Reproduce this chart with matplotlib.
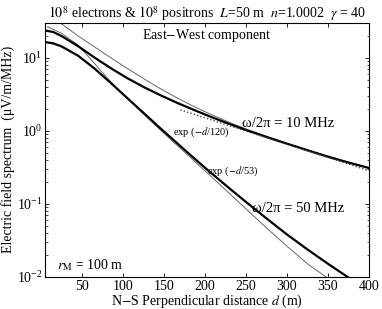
import numpy as np
import matplotlib
matplotlib.use("Agg")
import matplotlib.pyplot as plt

# ---------------------------------------
# Data
# ---------------------------------------

# omega/2pi = 10 MHz (thick) and its thin approximation
d_10 = [5, 15, 25, 45, 65, 85, 105, 125, 145, 165, 185, 205, 230, 250, 275, 300, 325, 350, 375, 400]
E_10 = [23.6, 22.5, 19.8, 14.45, 10.1, 7.21, 5.27, 3.98, 3.09, 2.44, 1.96, 1.585, 1.236, 1.023,
        0.822, 0.664, 0.540, 0.442, 0.367, 0.309]

d_10_thin = [15, 23, 45, 65, 85, 105, 125, 145, 165, 185, 205, 230, 250, 275, 300, 325, 350, 375, 400]
E_10_thin = [35.1, 30.2, 19.95, 14.13, 10.0, 7.16, 5.19, 3.80, 2.85, 2.19, 1.72, 1.30, 1.06,
             0.841, 0.676, 0.55, 0.447, 0.372, 0.313]

# omega/2pi = 50 MHz (thick) and its thin approximation
d_50 = [5, 15, 25, 45, 65, 85, 105, 125, 145, 165, 185, 205, 230, 250, 275, 300, 325, 350, 375, 400]
E_50 = [16.4, 15.7, 14.3, 10.7, 7.16, 4.52, 2.82, 1.76, 1.096, 0.692, 0.437, 0.279, 0.162, 0.106,
        0.0631, 0.038, 0.0237, 0.0151, 0.00977, 0.00646]

d_50_thin = [8, 25, 45, 65, 85, 105, 125, 145, 165, 185, 205, 230, 250, 275, 300, 325, 350, 400]
E_50_thin = [26.6, 21.6, 14.96, 8.41, 4.68, 2.79, 1.69, 1.042, 0.646, 0.403, 0.251, 0.138, 0.0851,
             0.0468, 0.0263, 0.0151, 0.00955, 0.00347]

# exp(-d/120) guide (straight on a log axis)
d_exp = [170, 400]
E_exp = [1.93, 0.284]

x_ticks = [50, 100, 150, 200, 250, 300, 350, 400]

# ---------------------------------------
# Style
# ---------------------------------------

plt.rcParams["font.family"] = ["Liberation Serif", "DejaVu Serif"]
plt.rcParams["mathtext.fontset"] = "stix"
plt.rcParams["xtick.direction"] = "in"
plt.rcParams["ytick.direction"] = "in"
plt.rcParams["xtick.top"] = True
plt.rcParams["ytick.right"] = True

fig = plt.figure(figsize=(3.82, 3.09), dpi=100)
ax = fig.add_axes([0.118, 0.104, 0.848, 0.822])

ax.plot(d_10_thin, E_10_thin, color="#666666", lw=0.7)
ax.plot(d_50_thin, E_50_thin, color="#666666", lw=0.7)
ax.plot(d_10, E_10, color="black", lw=1.6)
ax.plot(d_50, E_50, color="black", lw=1.6)
ax.plot(d_exp, E_exp, color="#444444", lw=1.0, ls=(0, (1, 1.5)))

ax.set_yscale("log")
ax.set_xlim(5, 400)
ax.set_ylim(0.01, 30)
ax.set_xticks(x_ticks)
ax.tick_params(labelsize=10, length=3, width=0.6, pad=2)
ax.tick_params(which="minor", length=1.8, width=0.5)
for s in ax.spines.values():
    s.set_linewidth(0.8)

ax.set_xlabel(r"N$-$S Perpendicular distance $d$ (m)", fontsize=10, labelpad=0)
ax.set_ylabel("Electric field spectrum  (\u03bcV/m/MHz)", fontsize=10, labelpad=1)
ax.set_title(r"$10^8$ electrons & $10^8$ positrons  $L$=50 m  $n$=1.0002  $\gamma$ = 40",
             fontsize=10, pad=2)

ax.text(0.497, 0.949, r"East$-$West component", transform=ax.transAxes,
        fontsize=10, ha="center", va="center")
ax.text(245, 1.25, "\u03c9/2\u03c0 = 10 MHz", fontsize=10.5, ha="left", va="center")
ax.text(257, 0.085, "\u03c9/2\u03c0 = 50 MHz", fontsize=10.5, ha="left", va="center")
ax.text(161, 0.94, r"exp ($-d$/120)", fontsize=7.5, ha="left", va="center")
ax.text(203, 0.283, r"exp ($-d$/53)", fontsize=7.5, ha="left", va="center")
ax.text(20, 0.0146, r"$r_{\rm M}$ = 100 m", fontsize=10, ha="left", va="center")

fig.savefig("out.png", dpi=100)
